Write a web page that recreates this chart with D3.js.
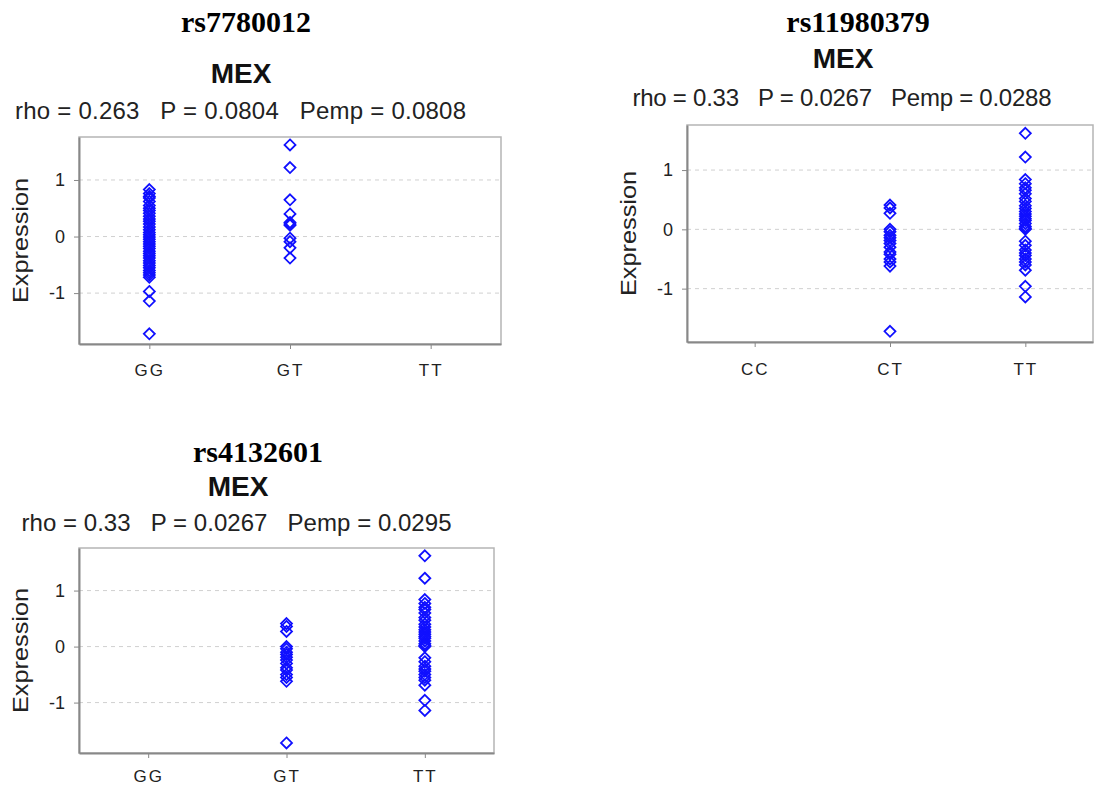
<!DOCTYPE html>
<meta charset="utf-8">
<style>
body { margin: 0; background: #fff; }
svg { display: block; }
.snp { font: bold 30px "Liberation Serif", "Times New Roman", serif; fill: #000; }
.pop { font: bold 28px "Liberation Sans", Arial, sans-serif; fill: #111; }
.stats { font: 24px "Liberation Sans", Arial, sans-serif; fill: #222; white-space: pre; }
.ylab { font: 22px "Liberation Sans", Arial, sans-serif; fill: #222; }
.axis text { font-family: "Liberation Sans", Arial, sans-serif; fill: #222; }
</style>
<svg width="1097" height="789"></svg>
<script src="https://d3js.org/d3.v7.min.js"></script>
<script>

// genotype categories per SNP
var cats7780012 = ["GG", "GT", "TT"];
var cats11980379 = ["CC", "CT", "TT"];
var cats4132601 = ["GG", "GT", "TT"];

// expression values
var rs7780012GG = [0.83, 0.76, 0.71, 0.68, 0.62, 0.55, 0.5, 0.46, 0.41, 0.36, 0.31, 0.27, 0.22, 0.17,
  0.12, 0.07, 0.03, -0.01, -0.05, -0.09, -0.13, -0.17, -0.21, -0.26, -0.3, -0.34, -0.38, -0.43,
  -0.47, -0.51, -0.55, -0.6, -0.64, -0.68, -0.72, -0.97, -1.14, -1.72];
var rs7780012GT = [1.62, 1.22, 0.65, 0.4, 0.25, 0.22, 0.2, -0.03, -0.09, -0.2, -0.38];

var rs11980379CT = [0.41, 0.36, 0.27, 0.0, -0.04, -0.1, -0.14, -0.19, -0.24, -0.3, -0.38, -0.42,
  -0.5, -0.55, -0.62, -1.72];
var rs11980379TT = [1.62, 1.22, 0.84, 0.77, 0.7, 0.66, 0.6, 0.52, 0.47, 0.4, 0.35, 0.3, 0.26, 0.22,
  0.18, 0.15, 0.1, 0.05, 0.02, 0.0, -0.2, -0.27, -0.35, -0.4, -0.44, -0.5, -0.55, -0.6, -0.69,
  -0.96, -1.14];

var rs4132601GT = [0.41, 0.36, 0.27, 0.0, -0.04, -0.1, -0.14, -0.19, -0.24, -0.3, -0.38, -0.42,
  -0.5, -0.55, -0.62, -1.72];
var rs4132601TT = [1.62, 1.22, 0.84, 0.77, 0.7, 0.66, 0.6, 0.52, 0.47, 0.4, 0.35, 0.3, 0.26, 0.22,
  0.18, 0.15, 0.1, 0.05, 0.02, 0.0, -0.2, -0.27, -0.35, -0.4, -0.44, -0.5, -0.55, -0.6, -0.69,
  -0.96, -1.14];

var yTicks = [-1, 0, 1];
var yDomain = [-1.9, 1.76];

var panels = [
  { snp: "rs7780012", stats: "rho = 0.263   P = 0.0804   Pemp = 0.0808", cats: cats7780012,
    groups: { GG: rs7780012GG, GT: rs7780012GT }, statsW: 451, labPad: 15,
    x0: 79, x1: 501, y0: 137, y1: 344, tx: 246, ty: 32, mx: 241, my: 83, sx: 240.5, sy: 119 },
  { snp: "rs11980379", stats: "rho = 0.33   P = 0.0267   Pemp = 0.0288", cats: cats11980379,
    groups: { CT: rs11980379CT, TT: rs11980379TT }, statsW: 419, labPad: 16,
    x0: 687, x1: 1093, y0: 125, y1: 342, tx: 858, ty: 32, mx: 843, my: 68, sx: 842, sy: 106 },
  { snp: "rs4132601", stats: "rho = 0.33   P = 0.0267   Pemp = 0.0295", cats: cats4132601,
    groups: { GT: rs4132601GT, TT: rs4132601TT }, statsW: 430, labPad: 12,
    x0: 79, x1: 494, y0: 548, y1: 753, tx: 258, ty: 462, mx: 238, my: 496, sx: 236.5, sy: 531 }
];

var svg = d3.select("svg");

function diamond(r) {
  return "M0," + (-r) + "L" + r + ",0L0," + r + "L" + (-r) + ",0Z";
}

panels.forEach(function(p) {
  var g = svg.append("g");

  var x = d3.scalePoint().domain(p.cats).range([p.x0, p.x1]).padding(0.5);
  var y = d3.scaleLinear().domain(yDomain).range([p.y1, p.y0]);

  g.append("text").attr("class", "snp")
      .attr("x", p.tx).attr("y", p.ty)
      .attr("text-anchor", "middle")
      .text(p.snp);
  g.append("text").attr("class", "pop")
      .attr("x", p.mx).attr("y", p.my)
      .attr("text-anchor", "middle")
      .text("MEX");
  g.append("text").attr("class", "stats")
      .attr("x", p.sx).attr("y", p.sy)
      .attr("text-anchor", "middle")
      .attr("xml:space", "preserve")
      .attr("textLength", p.statsW).attr("lengthAdjust", "spacing")
      .text(p.stats);

  // grid
  g.selectAll(".grid").data(yTicks).enter().append("line")
      .attr("class", "grid")
      .attr("x1", p.x0).attr("x2", p.x1)
      .attr("y1", function(d) { return y(d); })
      .attr("y2", function(d) { return y(d); })
      .attr("stroke", "#d0d0d0")
      .attr("stroke-dasharray", "4,4");

  // frame
  g.append("rect")
      .attr("x", p.x0).attr("y", p.y0)
      .attr("width", p.x1 - p.x0).attr("height", p.y1 - p.y0)
      .attr("fill", "none").attr("stroke", "#b5b5b5").attr("stroke-width", 1.5);

  var ya = g.append("g").attr("class", "axis")
      .attr("transform", "translate(" + p.x0 + ",0)")
      .call(d3.axisLeft(y).tickValues(yTicks).tickSizeInner(5).tickSizeOuter(0).tickPadding(9)
        .tickFormat(function(d) { return String(d); }));
  ya.select(".domain").attr("stroke", "#888").attr("stroke-width", 2);
  ya.selectAll(".tick line").attr("stroke", "#888");
  ya.selectAll("text").style("font-size", "18px");

  var xa = g.append("g").attr("class", "axis")
      .attr("transform", "translate(0," + p.y1 + ")")
      .call(d3.axisBottom(x).tickSizeInner(5).tickSizeOuter(0).tickPadding(p.labPad));
  xa.select(".domain").attr("stroke", "#888").attr("stroke-width", 2);
  xa.selectAll(".tick line").attr("stroke", "#888");
  xa.selectAll("text").style("font-size", "17px").style("letter-spacing", "2px");

  g.append("text").attr("class", "ylab")
      .attr("transform", "translate(" + (p.x0 - 51) + "," + ((p.y0 + p.y1) / 2) + ") rotate(-90)")
      .attr("text-anchor", "middle")
      .attr("textLength", 125).attr("lengthAdjust", "spacingAndGlyphs")
      .text("Expression");

  // points
  var pts = [];
  Object.keys(p.groups).forEach(function(k) {
    p.groups[k].forEach(function(v) { pts.push({ cat: k, v: v }); });
  });
  g.selectAll(".pt").data(pts).enter().append("path")
      .attr("class", "pt")
      .attr("d", diamond(5.5))
      .attr("transform", function(d) { return "translate(" + x(d.cat) + "," + y(d.v) + ")"; })
      .attr("fill", "none")
      .attr("stroke", "#1010ff")
      .attr("stroke-width", 1.8);
});

</script>
